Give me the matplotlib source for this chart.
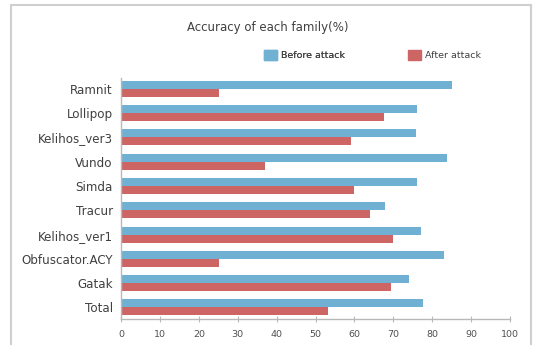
import matplotlib
matplotlib.use("Agg")
import matplotlib.pyplot as plt
from matplotlib.patches import Patch, Rectangle
import numpy as np

# Data
families = ["Ramnit", "Lollipop", "Kelihos_ver3", "Vundo", "Simda",
            "Tracur", "Kelihos_ver1", "Obfuscator.ACY", "Gatak", "Total"]
before_attack = [85.2, 76.0, 75.8, 83.7, 76.2, 67.9, 77.1, 83.0, 74.1, 77.6]
after_attack = [25.2, 67.6, 59.2, 36.9, 60.0, 63.9, 69.9, 25.3, 69.4, 53.2]
xticks = [0, 10, 20, 30, 40, 50, 60, 70, 80, 90, 100]

BLUE = "#70b1d3"
RED = "#cd6565"

W, H = 534, 345
fig = plt.figure(figsize=(W / 100, H / 100), dpi=100)
plt.rcParams['font.family'] = ['DejaVu Sans']

ax = fig.add_axes([121 / W, 1 - 319 / H, (510 - 121) / W, (319 - 78) / H])

y = np.arange(len(families))
bh = 0.33
ax.barh(y - bh / 2, before_attack, height=bh, color=BLUE)
ax.barh(y + bh / 2, after_attack, height=bh, color=RED)

ax.set_ylim(len(families) - 0.52, -0.45)
ax.set_xlim(0, 100)
ax.set_xticks(xticks)
ax.set_xticklabels([str(t) for t in xticks], fontsize=6.8, color="#505050")
ax.set_yticks(y)
ax.set_yticklabels(families, fontsize=8.6, color="#404040")

for s in ["top", "right"]:
    ax.spines[s].set_visible(False)
for s in ["left", "bottom"]:
    ax.spines[s].set_color("#b8b8b8")
    ax.spines[s].set_linewidth(1.0)
ax.tick_params(axis="y", length=0, pad=6)
ax.tick_params(axis="x", direction="inout", length=4, color="#b8b8b8", pad=6)

fig.text(268 / W, 1 - 27 / H, "Accuracy of each family(%)", ha="center",
         va="center", fontsize=8.5, color="#404040")

leg1 = fig.legend(handles=[Patch(color=BLUE, label="Before attack")],
                  loc="center left", bbox_to_anchor=(255 / W, 1 - 55 / H),
                  frameon=False, fontsize=6.8, handlelength=1.4,
                  handleheight=1.3, handletextpad=0.5, labelcolor="#404040")
leg2 = fig.legend(handles=[Patch(color=RED, label="After attack")],
                  loc="center left", bbox_to_anchor=(399 / W, 1 - 55 / H),
                  frameon=False, fontsize=6.8, handlelength=1.4,
                  handleheight=1.3, handletextpad=0.5, labelcolor="#404040")
fig.add_artist(leg1)

fig.patches.append(Rectangle((11 / W, -0.05), (531 - 11) / W, 1 - 5 / H + 0.05,
                             transform=fig.transFigure, fill=False,
                             edgecolor="#cfcfcf", linewidth=1.5))

fig.savefig("out.png", dpi=100)
